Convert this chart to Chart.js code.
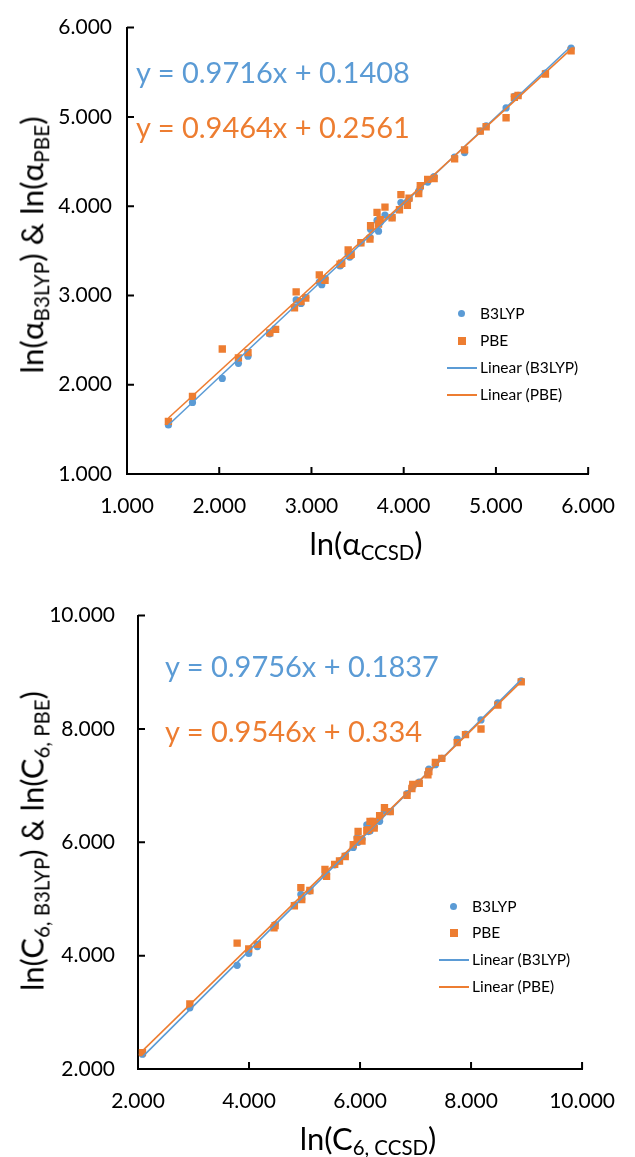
<!DOCTYPE html>
<html>
<head>
<meta charset="utf-8">
<script src="https://cdn.jsdelivr.net/npm/chart.js@4.4.1/dist/chart.umd.min.js"></script>
<style>
  html, body { margin:0; padding:0; background:#fff; }
  body { width:635px; height:1157px; position:relative; overflow:hidden; font-family:Lato, "Open Sans", sans-serif; color:#000; }
  .wrap { position:absolute; left:0; width:635px; }
  #w1 { top:0; height:580px; }
  #w2 { top:580px; height:577px; }
  canvas { display:block; }
  .t { position:absolute; white-space:nowrap; line-height:1; color:#000; }
  .eq { position:absolute; white-space:nowrap; font-size:29px; line-height:1; }
  sub { font-size:0.66em; vertical-align:-0.28em; line-height:0; }
  .leg { position:absolute; white-space:nowrap; font-size:15.5px; line-height:1; color:#000; }
  .mk { position:absolute; }
</style>
</head>
<body>
<div class="wrap" id="w1"><canvas id="c1" width="635" height="580" style="width:635px;height:580px"></canvas></div>
<div class="wrap" id="w2"><canvas id="c2" width="635" height="577" style="width:635px;height:577px"></canvas></div>

<!-- top chart texts -->
<div class="eq" style="left:136px;top:57px;color:#5B9BD5">y = 0.9716x + 0.1408</div>
<div class="eq" style="left:136px;top:112px;color:#ED7D31">y = 0.9464x + 0.2561</div>
<div class="t" style="left:366px;top:543px;transform:translate(-50%,-50%);font-size:31px">ln(α<sub>CCSD</sub>)</div>
<div class="t" style="left:32px;top:245px;transform:translate(-50%,-50%) rotate(-90deg);font-size:31.5px">ln(α<sub>B3LYP</sub>) &amp; ln(α<sub>PBE</sub>)</div>

<!-- top legend -->
<div class="mk" style="left:458px;top:310px;width:7px;height:7px;border-radius:50%;background:#5B9BD5"></div>
<div class="leg" style="left:480px;top:306px">B3LYP</div>
<div class="mk" style="left:458px;top:337px;width:8px;height:8px;background:#ED7D31"></div>
<div class="leg" style="left:480px;top:333px">PBE</div>
<div class="mk" style="left:447px;top:367px;width:30px;height:2px;background:#5B9BD5"></div>
<div class="leg" style="left:480px;top:360px">Linear (B3LYP)</div>
<div class="mk" style="left:447px;top:394px;width:30px;height:2px;background:#ED7D31"></div>
<div class="leg" style="left:480px;top:387px">Linear (PBE)</div>

<!-- bottom chart texts -->
<div class="eq" style="left:165px;top:651px;color:#5B9BD5">y = 0.9756x + 0.1837</div>
<div class="eq" style="left:165px;top:716px;color:#ED7D31">y = 0.9546x + 0.334</div>
<div class="t" style="left:368px;top:1138px;transform:translate(-50%,-50%);font-size:31px">ln(C<sub>6, CCSD</sub>)</div>
<div class="t" style="left:32px;top:841px;transform:translate(-50%,-50%) rotate(-90deg);font-size:31px">ln(C<sub>6, B3LYP</sub>) &amp; ln(C<sub>6, PBE</sub>)</div>

<!-- bottom legend -->
<div class="mk" style="left:450px;top:903px;width:7px;height:7px;border-radius:50%;background:#5B9BD5"></div>
<div class="leg" style="left:472px;top:899px">B3LYP</div>
<div class="mk" style="left:450px;top:929px;width:8px;height:8px;background:#ED7D31"></div>
<div class="leg" style="left:472px;top:925px">PBE</div>
<div class="mk" style="left:439px;top:959px;width:30px;height:2px;background:#5B9BD5"></div>
<div class="leg" style="left:472px;top:952px">Linear (B3LYP)</div>
<div class="mk" style="left:439px;top:986px;width:30px;height:2px;background:#ED7D31"></div>
<div class="leg" style="left:472px;top:979px">Linear (PBE)</div>

<script>
// ---------- DATA: polarizability (ln alpha) ----------
const alphaCCSD  = [1.449,1.710,2.033,2.208,2.312,2.548,2.611,2.816,2.834,2.886,2.938,3.085,3.112,3.147,3.310,3.328,3.398,3.415,3.430,3.536,3.634,3.641,3.711,3.727,3.745,3.797,3.874,3.954,3.970,4.040,4.058,4.163,4.180,4.260,4.330,4.552,4.660,4.830,4.894,5.110,5.200,5.240,5.537,5.815];
const alphaB3LYP = [1.549,1.802,2.070,2.240,2.320,2.570,2.620,2.870,2.950,2.910,2.980,3.150,3.120,3.190,3.330,3.360,3.460,3.430,3.450,3.590,3.650,3.740,3.840,3.720,3.820,3.900,3.870,3.960,4.040,4.050,4.080,4.170,4.210,4.270,4.330,4.550,4.600,4.840,4.900,5.100,5.230,5.240,5.490,5.770];
const alphaPBE   = [1.590,1.870,2.400,2.300,2.360,2.580,2.620,2.860,3.040,2.930,2.970,3.230,3.180,3.170,3.350,3.360,3.510,3.450,3.460,3.590,3.630,3.780,3.930,3.800,3.850,3.990,3.870,3.960,4.130,4.010,4.090,4.140,4.230,4.300,4.310,4.530,4.630,4.840,4.890,4.990,5.220,5.240,5.480,5.740];
const alphaFitB3LYP = [0.9716, 0.1408];   // slope, intercept
const alphaFitPBE   = [0.9464, 0.2561];
const alphaTicks    = [1, 2, 3, 4, 5, 6];

// ---------- DATA: C6 dispersion coefficient (ln C6) ----------
const c6CCSD  = [2.080,2.934,3.786,3.995,4.150,4.450,4.470,4.817,4.934,4.950,5.096,5.368,5.397,5.543,5.630,5.733,5.878,5.948,5.965,6.035,6.122,6.151,6.180,6.238,6.255,6.353,6.440,6.544,6.847,6.934,6.950,7.066,7.223,7.240,7.357,7.473,7.751,7.900,8.179,8.482,8.904];
const c6B3LYP = [2.260,3.080,3.830,4.040,4.160,4.510,4.550,4.890,5.080,5.000,5.140,5.420,5.440,5.600,5.670,5.760,5.910,6.080,6.000,6.060,6.310,6.190,6.200,6.280,6.270,6.370,6.550,6.540,6.860,6.950,7.010,7.060,7.220,7.290,7.370,7.480,7.820,7.910,8.160,8.460,8.850];
const c6PBE   = [2.290,3.150,4.220,4.120,4.200,4.490,4.530,4.880,5.200,4.990,5.150,5.520,5.400,5.610,5.670,5.750,5.960,6.050,6.190,6.020,6.210,6.220,6.370,6.370,6.250,6.470,6.610,6.540,6.830,6.950,7.020,7.040,7.190,7.250,7.410,7.480,7.760,7.900,8.000,8.420,8.830];
const c6FitB3LYP = [0.9756, 0.1837];
const c6FitPBE   = [0.9546, 0.334];
const c6Ticks    = [2, 4, 6, 8, 10];

const BLUE = '#5B9BD5';
const ORANGE = '#ED7D31';
const FONT = 'Lato, "Open Sans", sans-serif';

function pts(xs, ys) { return xs.map((x, i) => ({ x: x, y: ys[i] })); }
function fitLine(xs, fit) {
  const lo = Math.min(...xs), hi = Math.max(...xs);
  return [{ x: lo, y: fit[0] * lo + fit[1] }, { x: hi, y: fit[0] * hi + fit[1] }];
}

const insideTicks = {
  id: 'insideTicks',
  afterDraw(chart) {
    const { ctx, chartArea, scales } = chart;
    ctx.save();
    ctx.strokeStyle = '#000';
    ctx.lineWidth = 2;
    ctx.beginPath();
    scales.x.ticks.forEach(t => {
      const p = scales.x.getPixelForValue(t.value);
      ctx.moveTo(p, chartArea.bottom);
      ctx.lineTo(p, chartArea.bottom - 7);
    });
    scales.y.ticks.forEach(t => {
      const p = scales.y.getPixelForValue(t.value);
      ctx.moveTo(chartArea.left, p);
      ctx.lineTo(chartArea.left + 7, p);
    });
    ctx.stroke();
    ctx.restore();
  }
};

function makeChart(id, xs, yb, yp, fb, fp, ticks, L) {
  const lo = ticks[0], hi = ticks[ticks.length - 1], step = ticks[1] - ticks[0];
  new Chart(document.getElementById(id), {
    type: 'scatter',
    data: {
      datasets: [
        { label: 'Linear (PBE)', type: 'line', data: fitLine(xs, fp), borderColor: ORANGE, borderWidth: 1.6, pointRadius: 0, fill: false, order: 0 },
        { label: 'Linear (B3LYP)', type: 'line', data: fitLine(xs, fb), borderColor: BLUE, borderWidth: 1.6, pointRadius: 0, fill: false, order: 1 },
        { label: 'PBE', data: pts(xs, yp), pointStyle: 'rect', pointRadius: 5.2, pointBorderWidth: 0, backgroundColor: ORANGE, borderColor: ORANGE, order: 2 },
        { label: 'B3LYP', data: pts(xs, yb), pointStyle: 'circle', pointRadius: 3.6, pointBorderWidth: 0, backgroundColor: BLUE, borderColor: BLUE, order: 3 }
      ]
    },
    options: {
      responsive: false,
      animation: false,
      events: [],
      layout: { padding: { top: L.top, right: L.right, left: 0, bottom: 0 } },
      plugins: { legend: { display: false }, tooltip: { enabled: false } },
      scales: {
        x: {
          type: 'linear', min: lo, max: hi,
          afterFit(s) { s.height = L.xh; },
          afterBuildTicks(s) { s.ticks = ticks.map(v => ({ value: v })); },
          grid: { display: false, drawTicks: false },
          border: { display: true, color: '#000', width: 2 },
          ticks: { stepSize: step, padding: 20, color: '#000', font: { family: FONT, size: 21 }, maxRotation: 0, callback: v => Number(v).toFixed(3) }
        },
        y: {
          type: 'linear', min: lo, max: hi,
          afterFit(s) { s.width = L.yw; },
          afterBuildTicks(s) { s.ticks = ticks.map(v => ({ value: v })); },
          grid: { display: false, drawTicks: false },
          border: { display: true, color: '#000', width: 2 },
          ticks: { stepSize: step, padding: L.ypad, color: '#000', font: { family: FONT, size: 21 }, callback: v => Number(v).toFixed(3) }
        }
      }
    },
    plugins: [insideTicks]
  });
}

makeChart('c1', alphaCCSD, alphaB3LYP, alphaPBE, alphaFitB3LYP, alphaFitPBE, alphaTicks,
  { top: 19, right: 29, xh: 106, yw: 127, ypad: 15 });
makeChart('c2', c6CCSD, c6B3LYP, c6PBE, c6FitB3LYP, c6FitPBE, c6Ticks,
  { top: 33, right: 37, xh: 88, yw: 138, ypad: 23 });
</script>
</body>
</html>
